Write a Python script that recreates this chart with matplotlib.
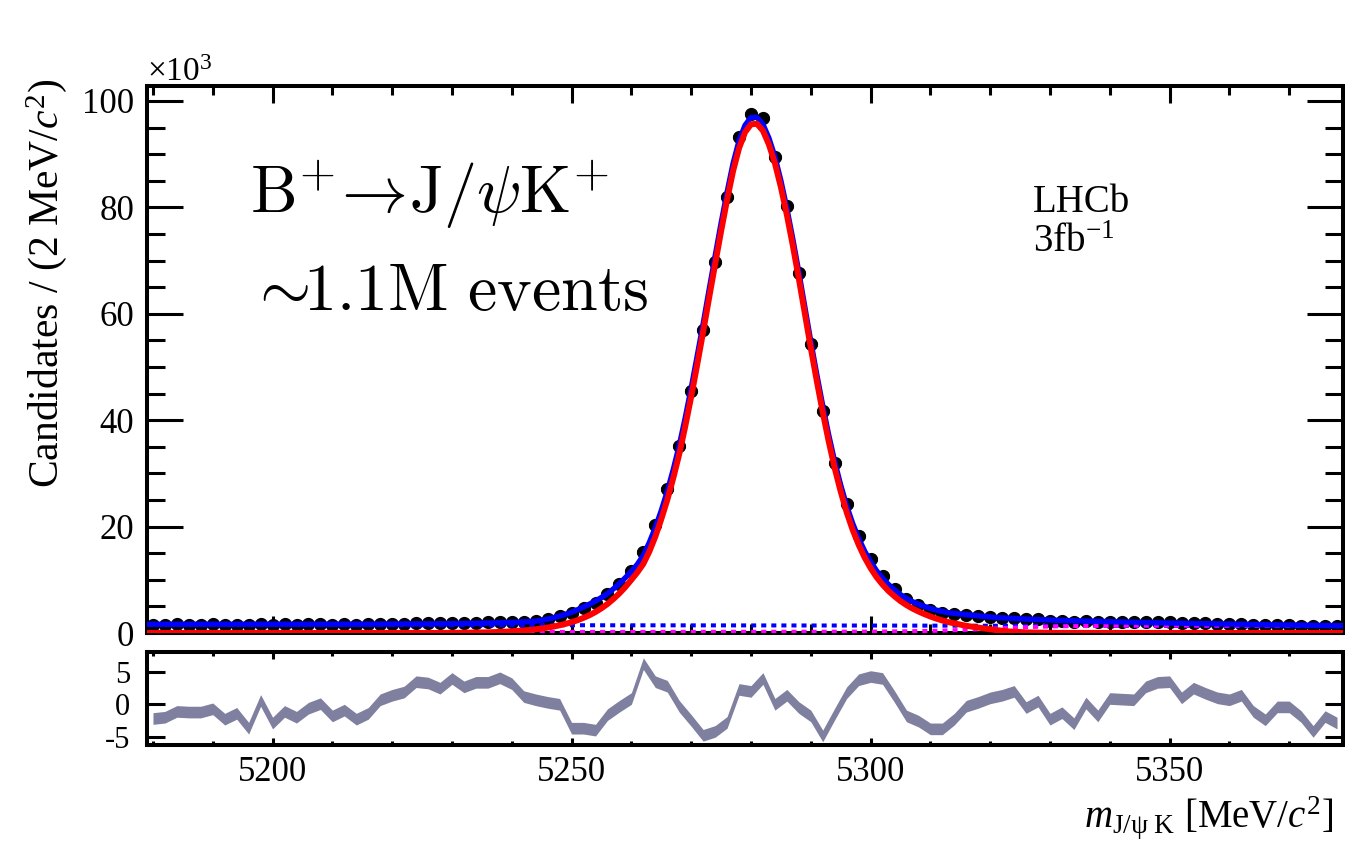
import numpy as np
import matplotlib
matplotlib.use("Agg")
import matplotlib.pyplot as plt
from matplotlib.ticker import MultipleLocator, FixedLocator

# ---- data: 100 bins of 2 MeV from 5179 to 5379, candidates in units of 10^3 ----
bin_lo, bin_hi, bin_w = 5179, 5379, 2
counts = [
    1.58, 1.56, 1.60, 1.59, 1.59, 1.61, 1.55, 1.58, 1.49, 1.66,
    1.52, 1.60, 1.56, 1.62, 1.64, 1.57, 1.61, 1.56, 1.60, 1.70,
    1.74, 1.77, 1.85, 1.86, 1.85, 1.93, 1.89, 1.96, 2.02, 2.10,
    2.13, 2.13, 2.25, 2.60, 3.20, 3.70, 4.70, 5.70, 7.30, 9.30,
    11.7, 15.3, 20.3, 27.05, 35.1, 45.5, 57.0, 69.7, 82.0, 93.2,
    97.5, 96.8, 89.5, 80.2, 67.7, 54.4, 41.7, 31.9, 24.2, 18.3,
    13.9, 10.7, 8.2, 6.35, 5.2, 4.35, 3.8, 3.5, 3.3, 3.11,
    2.98, 2.89, 2.82, 2.60, 2.54, 2.34, 2.31, 2.16, 2.25, 2.10,
    2.16, 2.11, 2.05, 2.09, 2.08, 2.03, 1.88, 1.90, 1.83, 1.76,
    1.71, 1.69, 1.56, 1.47, 1.51, 1.48, 1.40, 1.29, 1.34, 1.28,
]
pulls = [
    -2.2, -2.0, -1.1, -1.2, -1.2, -0.7, -2.3, -1.4, -3.7, 0.6,
    -2.9, -1.1, -2.0, -0.6, 0.1, -1.8, -0.9, -2.3, -1.4, 0.7,
    1.4, 1.9, 3.5, 3.3, 2.5, 4.0, 2.7, 3.4, 3.4, 4.1,
    3.2, 1.2, 0.7, 0.3, 0.0, -3.7, -3.7, -4.0, -1.6, -0.3,
    0.9, 6.3, 3.5, 2.8, -0.3, -2.5, -4.8, -4.2, -2.8, 2.3,
    2.0, 4.0, 0.0, 1.4, -0.5, -1.8, -4.9, -1.5, 1.8, 3.8,
    4.3, 4.0, 1.2, -1.8, -2.6, -3.8, -3.8, -2.3, -0.3, 0.3,
    1.0, 1.4, 2.0, -0.5, 0.5, -2.3, -1.3, -3.0, 0.2, -1.8,
    0.9, 0.8, 0.7, 2.7, 3.4, 3.5, 1.0, 2.5, 1.7, 1.0,
    0.7, 1.4, -1.1, -2.4, -0.4, -0.4, -1.9, -4.2, -1.9, -2.9,
]

# total fit (blue)
fit_mass = [5179, 5191, 5201, 5211, 5216, 5221, 5226, 5231, 5236, 5239, 5242] + \
    list(range(5243, 5314)) + \
    [5316, 5321, 5326, 5331, 5336, 5341, 5346, 5351, 5356, 5361, 5366, 5371, 5376, 5379]
fit_total = [
    1.64, 1.64, 1.64, 1.65, 1.66, 1.69, 1.72, 1.77, 1.87, 1.95, 2.08,
    2.14, 2.22, 2.40, 2.60, 2.88, 3.20, 3.53, 3.90, 4.38, 4.90,
    5.43, 6.00, 6.68, 7.40, 8.30, 9.30, 10.4, 11.6, 12.9, 14.6,
    17.0, 19.8, 23.0, 26.6, 30.7, 35.2, 40.4, 46.0, 52.0, 58.1,
    64.5, 70.8, 77.0, 82.8, 88.2, 92.5, 95.4, 96.9, 96.9, 95.6,
    93.0, 89.5, 85.0, 79.8, 74.0, 67.8, 61.3, 54.8, 48.6, 42.7,
    37.2, 32.2, 27.8, 23.9, 20.6, 17.8, 15.4, 13.4, 11.7, 10.3,
    9.1, 8.1, 7.2, 6.5, 5.9, 5.4, 5.0, 4.6, 4.3, 4.05, 3.82,
    3.45, 2.90, 2.62, 2.40, 2.24, 2.10, 1.97, 1.86, 1.76, 1.66, 1.56, 1.49, 1.41, 1.36,
]

# signal component (red)
sig_mass = [5179, 5226, 5231, 5236, 5239, 5242] + list(range(5243, 5314)) + \
    [5316, 5319, 5321, 5323, 5326, 5331, 5379]
sig_curve = [
    0.0, 0.0, 0.03, 0.12, 0.25, 0.48,
    0.58, 0.70, 0.85, 1.02, 1.22, 1.45, 1.72, 2.03, 2.40, 2.85,
    3.35, 3.95, 4.65, 5.45, 6.40, 7.45, 8.65, 10.0, 11.4, 13.0,
    15.3, 18.1, 21.4, 25.0, 29.1, 33.6, 38.8, 44.4, 50.4, 56.6,
    63.0, 69.3, 75.5, 81.4, 86.8, 91.1, 94.1, 95.6, 95.7, 94.4,
    91.8, 88.3, 83.8, 78.6, 72.8, 66.6, 60.1, 53.6, 47.4, 41.5,
    36.0, 31.0, 26.6, 22.7, 19.4, 16.6, 14.2, 12.2, 10.5, 9.1,
    7.9, 6.9, 6.0, 5.25, 4.6, 4.05, 3.55, 3.1, 2.7, 2.35, 2.05,
    1.35, 0.85, 0.55, 0.30, 0.12, 0.02, 0.0,
]

# combinatorial background (blue dotted) and mis-ID component (magenta)
comb_mass = [5179, 5241, 5301, 5341, 5379]
comb_curve = [1.52, 1.47, 1.40, 1.33, 1.27]
misid_mass = [5179, 5241, 5291, 5301, 5306, 5311, 5316, 5321, 5326, 5331, 5341, 5351, 5361, 5371, 5379]
misid_curve = [0.18, 0.20, 0.24, 0.28, 0.33, 0.42, 0.60, 0.85, 1.10, 1.25, 1.38, 1.40, 1.38, 1.35, 1.32]

plt.rcParams['font.family'] = 'Liberation Serif'
plt.rcParams['mathtext.fontset'] = 'custom'
plt.rcParams['mathtext.rm'] = 'Liberation Serif'
plt.rcParams['mathtext.it'] = 'Liberation Serif:italic'
plt.rcParams['mathtext.bf'] = 'Liberation Serif:bold'
plt.rcParams['axes.unicode_minus'] = False

W, H = 1345, 842
fig = plt.figure(figsize=(W / 100, H / 100), dpi=100)


def box(l, t, r, b):
    return [l / W, 1 - b / H, (r - l) / W, (b - t) / H]


ax = fig.add_axes(box(147, 86, 1343, 633))
axp = fig.add_axes(box(147, 652, 1343, 745))

centers = np.arange(bin_lo + bin_w / 2, bin_hi, bin_w)

ax.errorbar(centers, counts, xerr=bin_w / 2, fmt='o', ms=8.5, color='black',
            elinewidth=3.5, capsize=0, zorder=2)
ax.plot(comb_mass, comb_curve, color='#0000ff', lw=2.9, ls=(0, (1.25, 1.25)), zorder=3)
ax.plot(misid_mass, misid_curve, color='#ff00ff', lw=2.9, ls=(0, (1.25, 1.25)), zorder=3)
ax.plot(fit_mass, fit_total, color='#0000ff', lw=3.9, zorder=4)
ax.plot(sig_mass, sig_curve, color='#ff0000', lw=4.3, zorder=5)

pl = np.array(pulls)
axp.fill_between(centers, pl - 0.9, pl + 0.9, color='#7f7f9f', lw=0)

for a in (ax, axp):
    a.set_xlim(bin_lo, bin_hi)
    for s in a.spines.values():
        s.set_linewidth(2.9)
    a.xaxis.set_major_locator(MultipleLocator(50))
    a.xaxis.set_minor_locator(MultipleLocator(10))
    a.tick_params(which='both', direction='in', top=True, right=True, width=2.2,
                  labelsize=25, colors='black')

ax.set_ylim(0, 102.8)
ax.yaxis.set_major_locator(MultipleLocator(20))
ax.yaxis.set_minor_locator(MultipleLocator(5))
ax.tick_params(axis='y', which='major', length=26, pad=9)
ax.tick_params(axis='y', which='minor', length=13)
ax.tick_params(axis='x', which='major', length=12)
ax.tick_params(axis='x', which='minor', length=6.5)
ax.tick_params(axis='x', labelbottom=False)

axp.set_ylim(-6.3, 8.1)
axp.yaxis.set_major_locator(FixedLocator([-5, 0, 5]))
axp.tick_params(axis='y', which='major', length=13, labelsize=22, pad=12)
axp.tick_params(axis='y', which='minor', length=0)
axp.tick_params(axis='x', which='major', length=5, pad=8)
axp.tick_params(axis='x', which='minor', length=3)

# labels
fig.text(147 / W, 1 - 81 / H, r'$\times10^{3}$', fontsize=24, va='baseline')
fig.text(47 / W, 1 - 283 / H, r'Candidates / (2 MeV/$c^{2}$)', fontsize=30,
         rotation=90, ha='center', va='center')
fig.text(1333 / W, 1 - 827 / H, r'$m_{\mathrm{J/\psi\ K}}$ [MeV/$c^{2}$]', fontsize=28,
         ha='right', va='baseline')

fig.text(250 / W, 1 - 213 / H, r'$\mathrm{B}^{+}\!\rightarrow\!\mathrm{J}/\psi\mathrm{K}^{+}$',
         fontsize=47.5, va='baseline', math_fontfamily='cm')
fig.text(248 / W, 1 - 310 / H, r'$\sim\!\!1.1\mathrm{M\ events}$',
         fontsize=47.5, va='baseline', math_fontfamily='cm')

fig.text(1033 / W, 1 - 212 / H, 'LHCb', fontsize=28, va='baseline')
fig.text(1033 / W, 1 - 252 / H, r'3fb$^{-1}$', fontsize=28, va='baseline')

fig.savefig('out.png', dpi=100)
